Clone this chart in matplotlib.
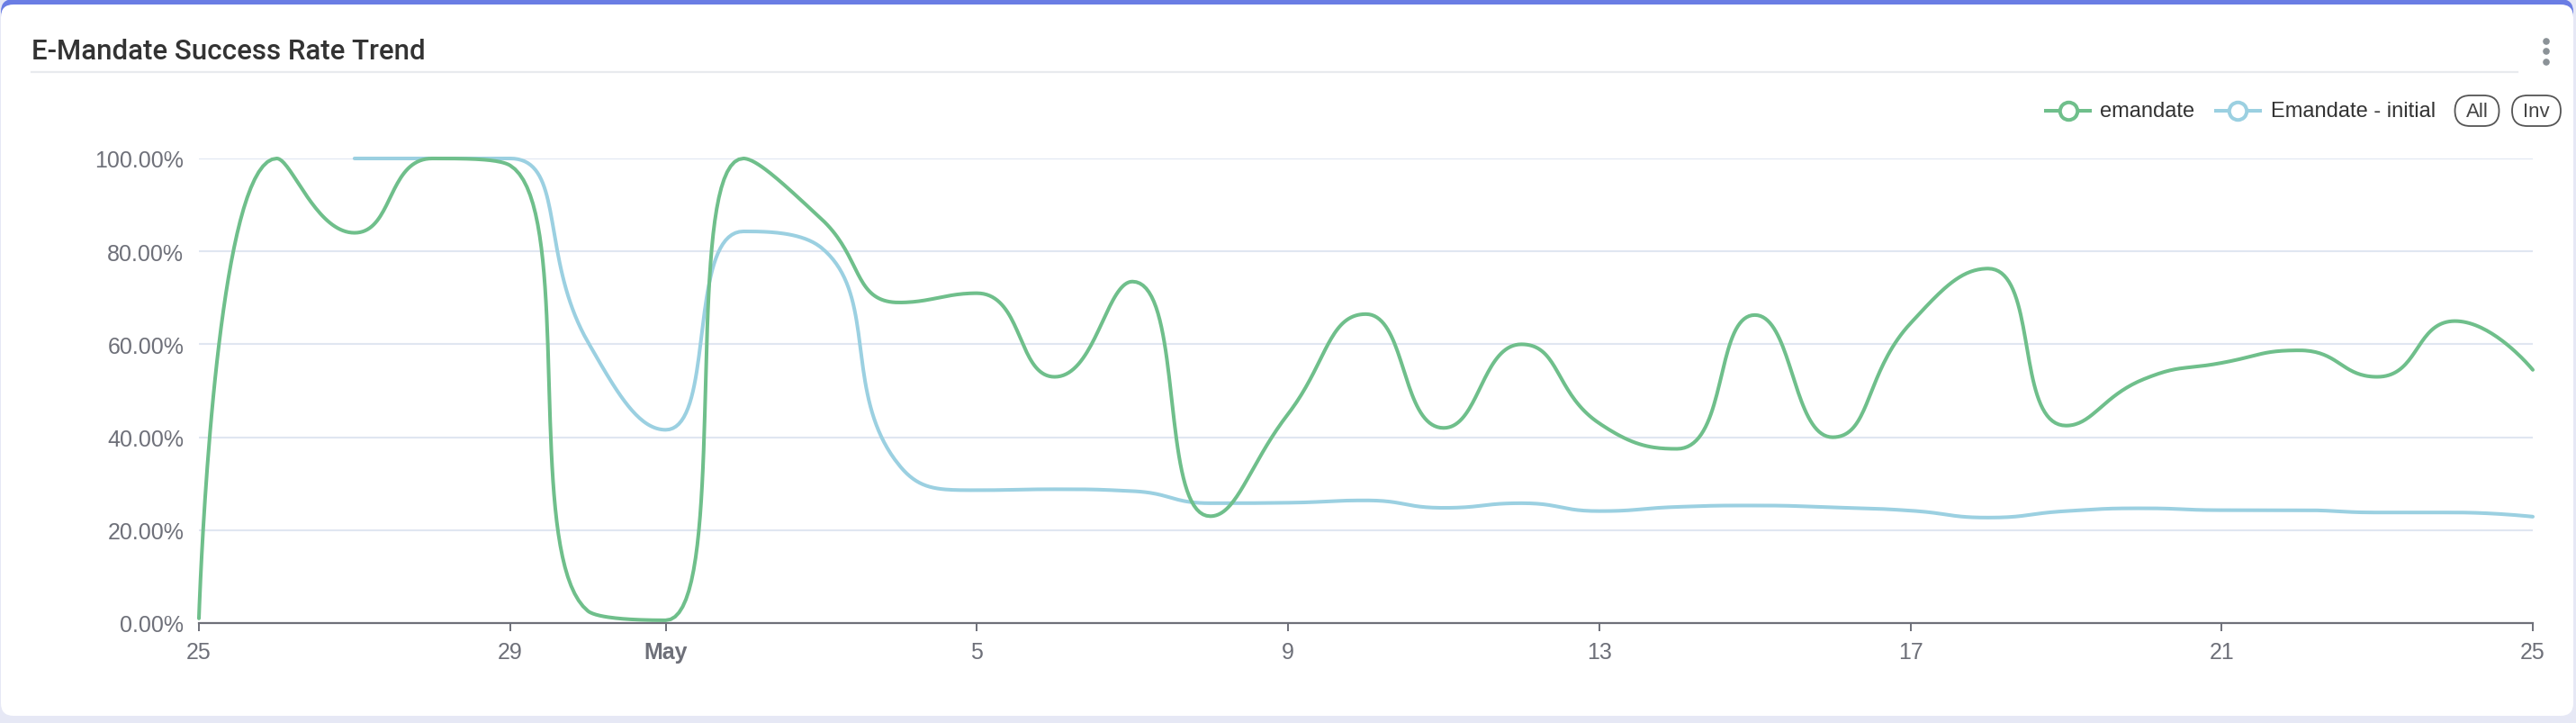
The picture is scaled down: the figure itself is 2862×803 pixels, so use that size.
import matplotlib
matplotlib.use('Agg')
import matplotlib.pyplot as plt
import matplotlib.dates as mdates
from matplotlib.patches import FancyBboxPatch, Circle
from matplotlib.lines import Line2D
from matplotlib.transforms import IdentityTransform
import numpy as np
import pandas as pd

# ---- data ----
days = pd.date_range('2024-04-25', '2024-05-25', freq='D')
emandate = [1, 100, 84, 100, 98.5, 2.6, 0.6, 100, 87, 69, 71, 53, 73.5, 23,
            45, 66.5, 42, 60, 43, 37.5, 66.3, 40, 64.5, 76.3, 42.5, 52.5,
            56, 58.7, 53, 65, 54.5]
emandate_initial = [None, None, 100, 100, 100, 60.5, 41.6, 84.3, 80.8, 34,
                    28.6, 28.8, 28.4, 25.8, 25.9, 26.4, 24.8, 25.8, 24.1, 25,
                    25.3, 24.9, 24.2, 22.7, 24.1, 24.7, 24.3, 24.3, 23.8, 23.8,
                    22.9]
series_names = ['emandate', 'Emandate - initial']
series_colors = ['#6fbf8b', '#9bd0e1']
tick_days = ['2024-04-25', '2024-04-29', '2024-05-01', '2024-05-05', '2024-05-09',
             '2024-05-13', '2024-05-17', '2024-05-21', '2024-05-25']
tick_labels = ['25', '29', 'May', '5', '9', '13', '17', '21', '25']
y_ticks = [0, 20, 40, 60, 80, 100]

W, H = 2862, 804
plt.rcParams['font.family'] = ['Liberation Sans', 'DejaVu Sans']
AXIS_GREY = '#6e7079'

fig = plt.figure(figsize=(W / 100, H / 100), dpi=100)
fig.patch.set_facecolor('#e6e8f5')
px = IdentityTransform()


def fx(x):
    return x / W


def fy(y):
    return 1 - y / H


# ---- card ----
fig.add_artist(FancyBboxPatch((1, H - 40), W - 4, 40,
                              boxstyle='round,pad=0,rounding_size=14',
                              transform=px, fc='#6a7de4', ec='none', zorder=-3))
fig.add_artist(FancyBboxPatch((1, H - 796), W - 4, 796 - 6,
                              boxstyle='round,pad=0,rounding_size=14',
                              transform=px, fc='white', ec='none', zorder=-2))

fig.text(fx(35), fy(58), 'E-Mandate Success Rate Trend', fontsize=22.5,
         family=['Roboto', 'DejaVu Sans'], fontweight='medium', color='#333333',
         va='center', ha='left')
fig.add_artist(Line2D([fx(35), fx(2797)], [fy(81), fy(81)], color='#e8eaee', lw=1.6))
for yy in (47, 58, 70):
    fig.add_artist(Circle((2829, H - yy), 3.8, transform=px, fc='#8b9297', ec='none'))

# ---- axes ----
ax = fig.add_axes([fx(221), fy(693), fx(2814) - fx(221), fy(177) - fy(693)])
ax.set_zorder(2)
ax.set_facecolor('none')
x_num = mdates.date2num(days)
ax.set_xlim(x_num[0], x_num[-1])
ax.set_ylim(0, 100)

for s in ('top', 'right', 'left'):
    ax.spines[s].set_visible(False)
ax.spines['bottom'].set_color(AXIS_GREY)
ax.spines['bottom'].set_linewidth(1.6)
ax.spines['bottom'].set_zorder(3)

ax.set_yticks(y_ticks)
ax.set_yticklabels([f'{v:.2f}%' for v in y_ticks])
ax.yaxis.grid(True, color='#e0e6f1', lw=1.5)
ax.set_axisbelow(True)
ax.tick_params(axis='y', length=0, pad=12, labelsize=18, labelcolor=AXIS_GREY)

ax.set_xticks(mdates.date2num(pd.to_datetime(tick_days)))
ax.set_xticklabels(tick_labels)
ax.tick_params(axis='x', length=6.5, width=1.4, color=AXIS_GREY, pad=8,
               labelsize=18, labelcolor=AXIS_GREY)
ax.get_xticklabels()[2].set_fontweight('bold')


def echarts_smooth(xs, ys, smooth=0.5, n=40):
    """Bezier smoothing the way echarts draws smooth lines (display space)."""
    pts = ax.transData.transform(np.column_stack([xs, ys]))
    out = [pts[0]]
    cp0 = pts[0]
    t = np.linspace(0, 1, n)[1:, None]
    for i in range(1, len(pts)):
        x, y = pts[i]
        prx, pry = pts[i - 1]
        if i == len(pts) - 1:
            cp1 = np.array([x, y])
            ncp0 = None
        else:
            nx, ny = pts[i + 1]
            vx, vy = nx - prx, ny - pry
            lp = np.hypot(x - prx, y - pry)
            ln = np.hypot(nx - x, ny - y)
            r = ln / (ln + lp)
            ncx = x + vx * smooth * r
            ncy = y + vy * smooth * r
            ncx = max(min(ncx, max(nx, x)), min(nx, x))
            ncy = max(min(ncy, max(ny, y)), min(ny, y))
            vx, vy = ncx - x, ncy - y
            c1x = x - vx * lp / ln
            c1y = y - vy * lp / ln
            c1x = max(min(c1x, max(prx, x)), min(prx, x))
            c1y = max(min(c1y, max(pry, y)), min(pry, y))
            vx, vy = x - c1x, y - c1y
            ncp0 = np.array([x + vx * ln / lp, y + vy * ln / lp])
            cp1 = np.array([c1x, c1y])
        p0 = np.array([prx, pry])
        p3 = np.array([x, y])
        seg = ((1 - t) ** 3) * p0 + 3 * ((1 - t) ** 2) * t * cp0 \
            + 3 * (1 - t) * t ** 2 * cp1 + t ** 3 * p3
        out.extend(seg)
        cp0 = ncp0
    data = ax.transData.inverted().transform(np.array(out))
    return data[:, 0], data[:, 1]


for vals, color, z in [(emandate_initial, series_colors[1], 4),
                       (emandate, series_colors[0], 5)]:
    mask = np.array([v is not None for v in vals])
    yv = np.array([v for v in vals if v is not None], dtype=float)
    sx, sy = echarts_smooth(x_num[mask], yv)
    ax.plot(sx, sy, color=color, lw=2.9, solid_capstyle='round',
            solid_joinstyle='round', clip_on=False, zorder=z)

# ---- legend (manual, echarts style) ----
legend_items = [(2273, 2322, 2298, 2333), (2462, 2511, 2486, 2523)]
for (x0, x1, xc, xt), name, color in zip(legend_items, series_names, series_colors):
    fig.add_artist(Line2D([fx(x0), fx(x1)], [fy(124)] * 2, color=color, lw=2.9))
    fig.add_artist(Line2D([fx(xc)], [fy(124)], marker='o', ms=14, mfc='white',
                          mec=color, mew=2.9, lw=0))
    fig.text(fx(xt), fy(124), name, fontsize=17, color='#333333', va='center',
             ha='left')

for label, xc, w in [('All', 2752, 49), ('Inv', 2818, 54)]:
    fig.add_artist(FancyBboxPatch((xc - w / 2, H - 124 - 17), w, 34,
                                  boxstyle='round,pad=0,rounding_size=17',
                                  transform=px, fc='white', ec='#555555', lw=1.3))
    fig.text(fx(xc), fy(124), label, fontsize=16, color='#444444',
             va='center', ha='center')

fig.savefig('out.png', dpi=100, facecolor=fig.get_facecolor())
